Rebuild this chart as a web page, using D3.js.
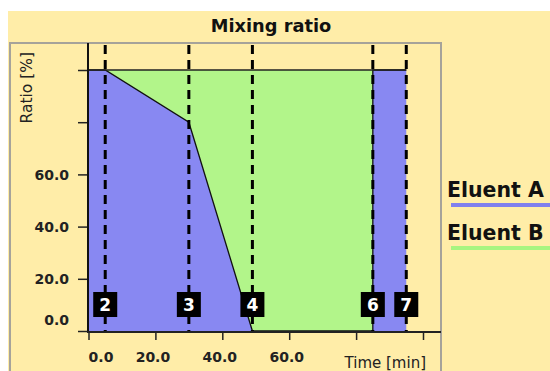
<!DOCTYPE html>
<html><head><meta charset="utf-8">
<script src="https://cdn.jsdelivr.net/npm/d3@7"></script>
<style>html,body{margin:0;padding:0;background:#fff;}svg{display:block;}</style>
</head><body>
<script>
// Data
const times = [0, 5, 30, 49, 85, 85, 95];
const eluentA = [100, 100, 80, 0, 0, 100, 100];
const events = [{label: "2", t: 5}, {label: "3", t: 30}, {label: "4", t: 49}, {label: "6", t: 85}, {label: "7", t: 95}];
const xTicks = [0, 20, 40, 60, 80, 100];
const xTickLabels = ["0.0", "20.0", "40.0", "60.0", "", ""];
const yTicks = [0, 20, 40, 60, 80, 100];
const yTickLabels = ["0.0", "20.0", "40.0", "60.0", "", ""];
const legendItems = ["Eluent A", "Eluent B"];

const W = 550, H = 371;
const bg = "#FFEDA8", blue = "#8888F2", green = "#B2F58A";
const svg = d3.select("body").append("svg").attr("width", W).attr("height", H);
svg.append("rect").attr("x", 8).attr("y", 11).attr("width", W - 8).attr("height", H - 11).attr("fill", bg);

// title
svg.append("text").attr("x", 271).attr("y", 32).attr("text-anchor", "middle")
  .attr("font-family", "DejaVu Sans").attr("font-weight", "bold").attr("font-size", 17.8)
  .attr("fill", "#111").text("Mixing ratio");

// panel border
svg.append("rect").attr("x", 10).attr("y", 43).attr("width", 431).attr("height", 340)
  .attr("fill", "none").attr("stroke", "#A6A39A").attr("stroke-width", 2);

const x = d3.scaleLinear().domain([0, 100]).range([88.5, 423]);
const y = d3.scaleLinear().domain([0, 100]).range([331, 70]);
const data = times.map((t, i) => ({t, a: eluentA[i]}));

// green (Eluent B) region: from A boundary up to 100
svg.append("path").datum(data)
  .attr("d", d3.area().x(d => x(d.t)).y0(d => y(d.a)).y1(y(100)))
  .attr("fill", green);
// blue (Eluent A) region
svg.append("path").datum(data)
  .attr("d", d3.area().x(d => x(d.t)).y0(y(0)).y1(d => y(d.a)))
  .attr("fill", blue);
// boundary line
svg.append("path").datum(data)
  .attr("d", d3.line().x(d => x(d.t)).y(d => y(d.a)))
  .attr("fill", "none").attr("stroke", "#111").attr("stroke-width", 1.3);
// top line
svg.append("line").attr("x1", x(0)).attr("x2", x(95)).attr("y1", y(100)).attr("y2", y(100))
  .attr("stroke", "#222").attr("stroke-width", 1.5);

// event dashed lines
const ev = svg.append("g");
events.forEach(e => {
  ev.append("line").attr("x1", x(e.t)).attr("x2", x(e.t)).attr("y1", 45).attr("y2", 331)
    .attr("stroke", "#000").attr("stroke-width", 3).attr("stroke-dasharray", "9,6");
});
events.forEach(e => {
  ev.append("rect").attr("x", x(e.t) - 12).attr("y", 292).attr("width", 24).attr("height", 25).attr("fill", "#000");
  ev.append("text").attr("x", x(e.t)).attr("y", 311).attr("text-anchor", "middle")
    .attr("font-family", "DejaVu Sans").attr("font-weight", "bold").attr("font-size", 17)
    .attr("fill", "#fff").text(e.label);
});

// y axis
const yAxis = d3.axisLeft(y).tickValues(yTicks).tickSize(10).tickFormat((d, i) => yTickLabels[i]);
const yg = svg.append("g").attr("transform", "translate(88,0)").call(yAxis);
yg.select(".domain").remove();
yg.append("line").attr("x1", 0).attr("x2", 0).attr("y1", 43).attr("y2", 333).attr("stroke", "#111").attr("stroke-width", 2);
yg.selectAll(".tick line").attr("stroke", "#222").attr("stroke-width", 1.5);
yg.selectAll(".tick text").attr("font-family", "DejaVu Sans").attr("font-weight", "bold")
  .attr("font-size", 14).attr("fill", "#222").attr("x", -19)
  .attr("dy", (d) => d === 0 ? "-0.45em" : "0.35em");

// x axis
const xAxis = d3.axisBottom(x).tickValues(xTicks).tickSize(8).tickFormat((d, i) => xTickLabels[i]);
const xg = svg.append("g").attr("transform", "translate(0,332)").call(xAxis);
xg.select(".domain").remove();
xg.append("line").attr("x1", 87).attr("x2", 441).attr("y1", 0).attr("y2", 0).attr("stroke", "#222").attr("stroke-width", 2);
xg.selectAll(".tick line").attr("stroke", "#222").attr("stroke-width", 1.5);
xg.selectAll(".tick text").attr("font-family", "DejaVu Sans").attr("font-weight", "bold")
  .attr("font-size", 14).attr("fill", "#222").attr("y", 20)
  .attr("dx", d => d === 0 ? "12" : "-3");

// axis titles
svg.append("text").attr("transform", "translate(32,52) rotate(-90)").attr("text-anchor", "end")
  .attr("font-family", "DejaVu Sans").attr("font-size", 15.5).attr("fill", "#222").text("Ratio [%]");
svg.append("text").attr("x", 426).attr("y", 368).attr("text-anchor", "end")
  .attr("font-family", "DejaVu Sans").attr("font-size", 15).attr("fill", "#222").text("Time [min]");

// legend
legendItems.forEach((name, i) => {
  const yy = 197 + i * 43;
  svg.append("text").attr("x", 447).attr("y", yy).attr("font-family", "DejaVu Sans")
    .attr("font-weight", "bold").attr("font-size", 20.5).attr("fill", "#111").text(name);
  svg.append("rect").attr("x", 451).attr("y", yy + 6).attr("width", 100).attr("height", 4).attr("fill", i === 0 ? "#8080EE" : "#A8F580");
});
</script>
</body></html>
